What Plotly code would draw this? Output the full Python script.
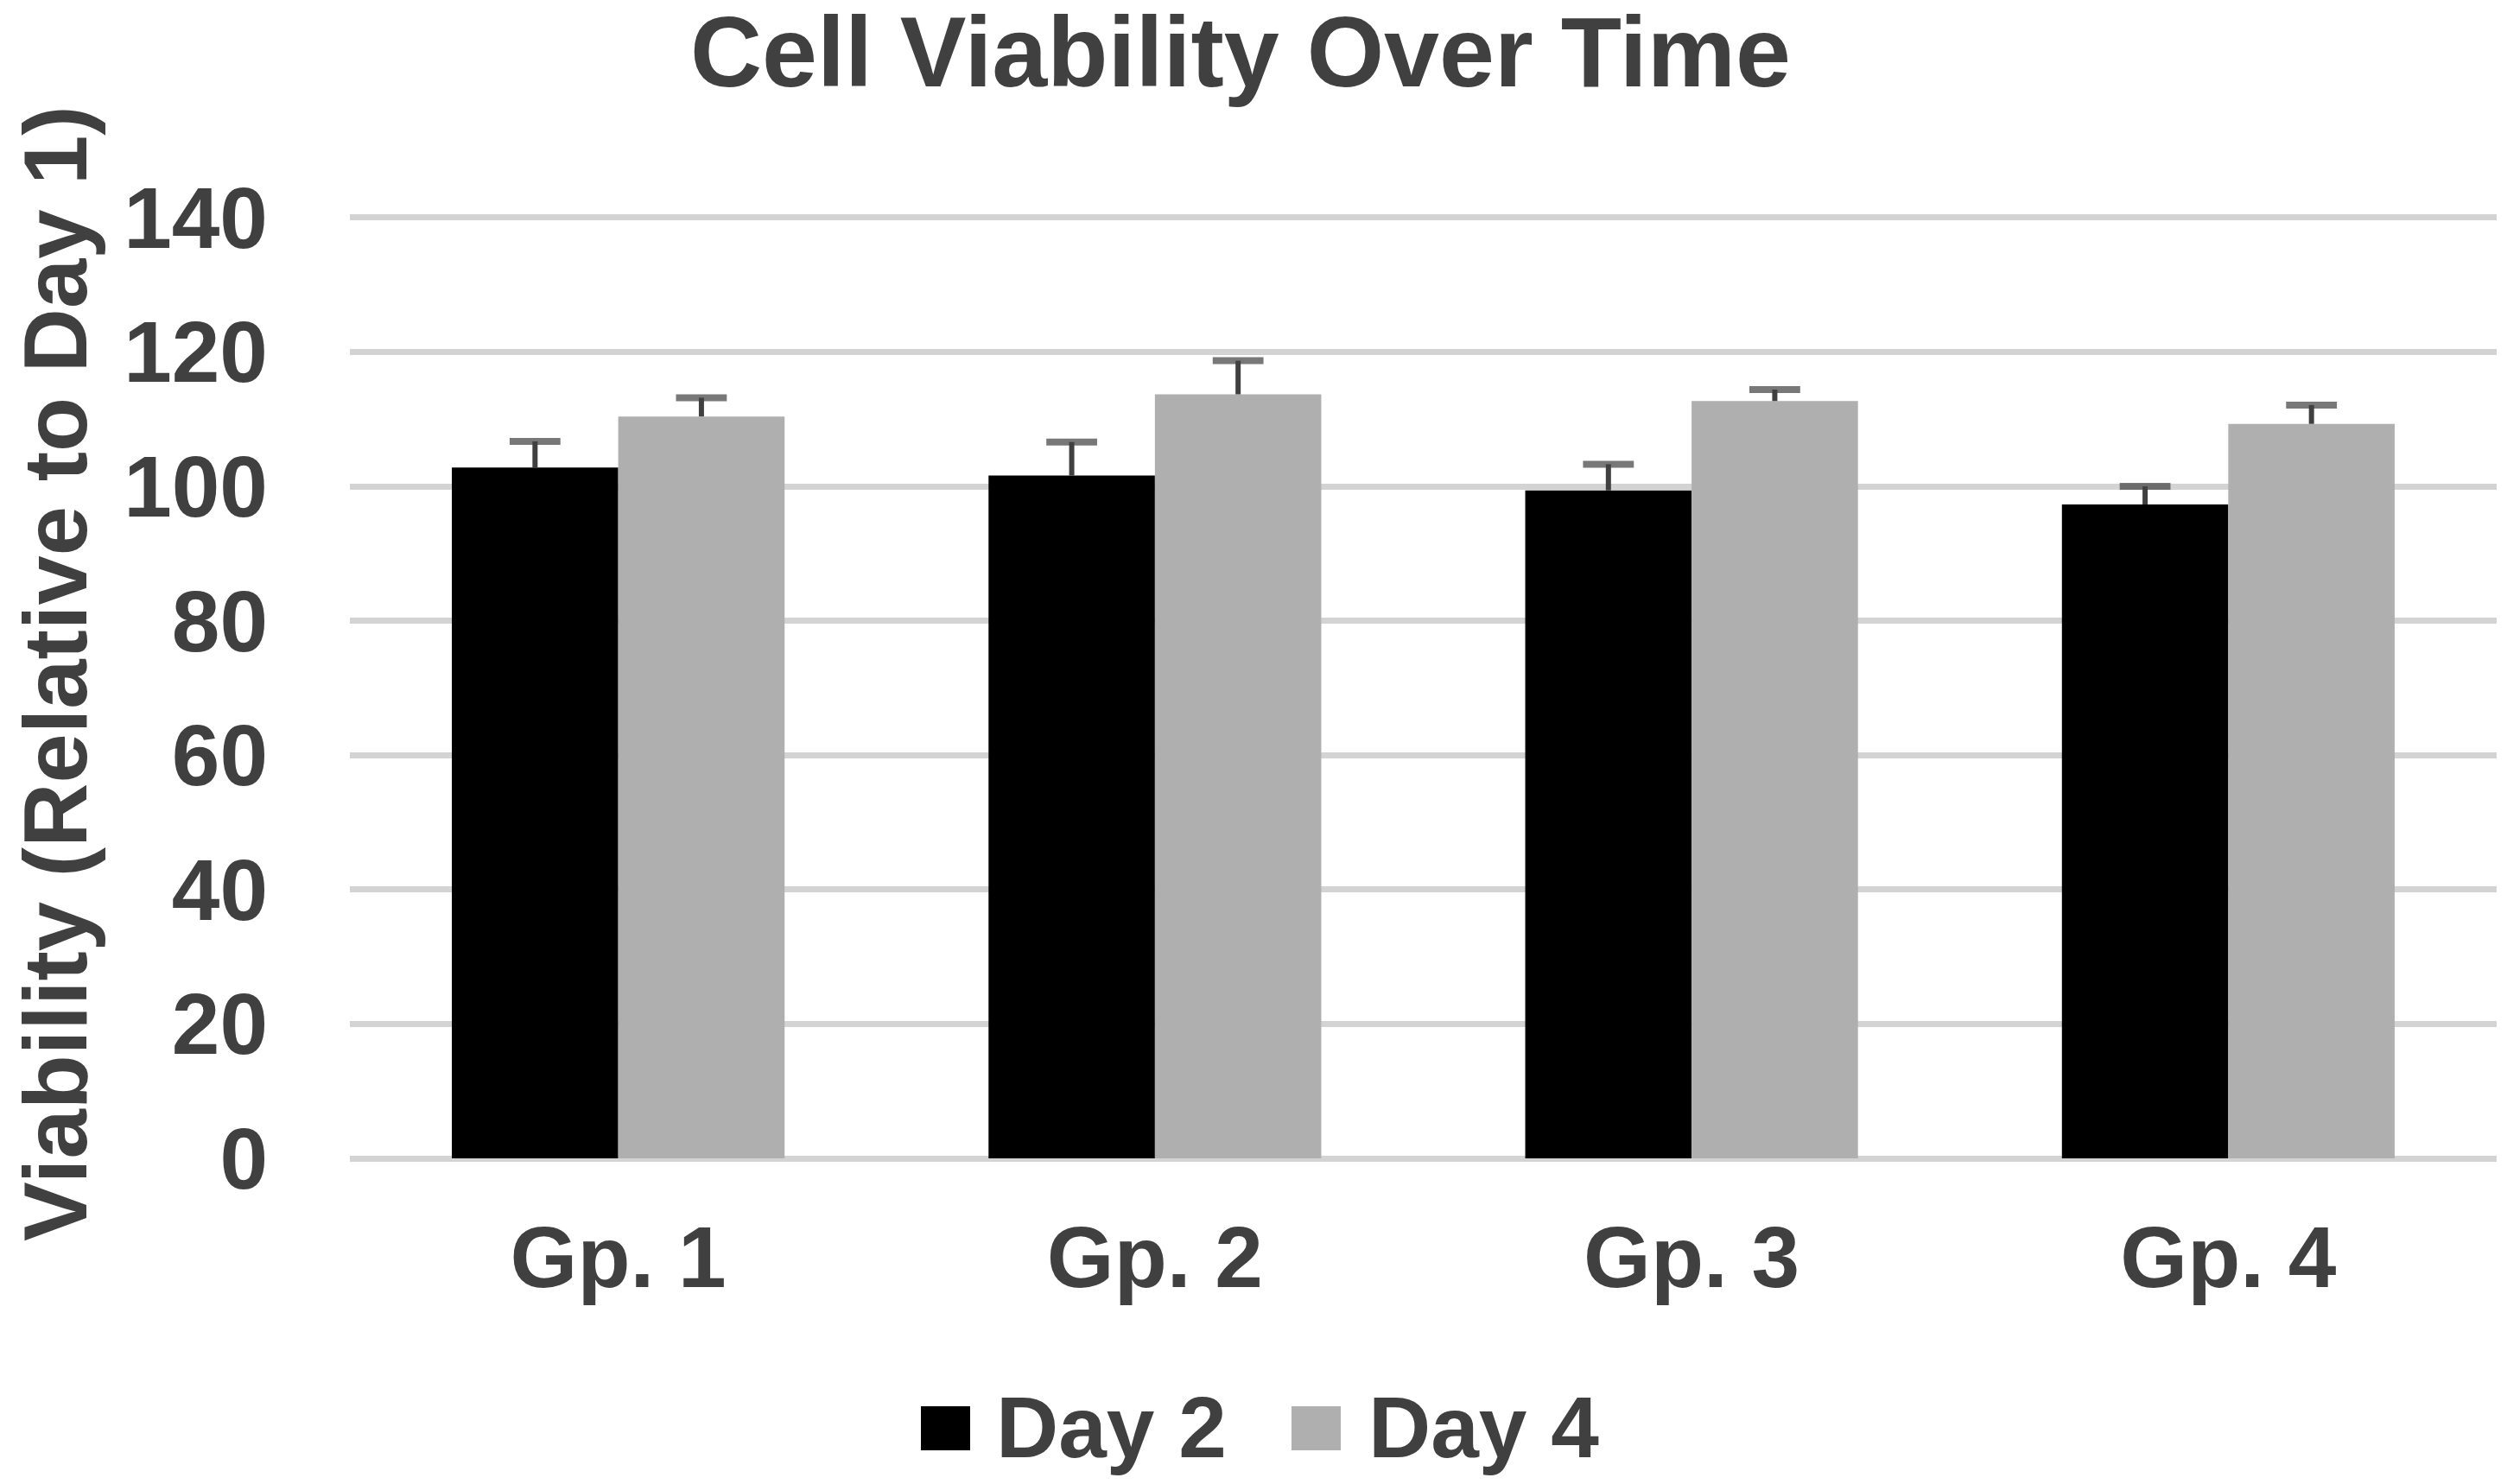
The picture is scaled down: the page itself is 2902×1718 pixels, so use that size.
import plotly.graph_objects as go

groups = ["Gp. 1", "Gp. 2", "Gp. 3", "Gp. 4"]
day2 = [102.8, 101.6, 99.4, 97.3]
day2_err = [3.9, 5.0, 3.9, 2.7]
day4 = [110.4, 113.7, 112.7, 109.3]
day4_err = [2.8, 5.0, 1.7, 2.8]
series_names = ["Day 2", "Day 4"]
y_ticks = [0, 20, 40, 60, 80, 100, 120, 140]

TXT = "#404040"
FONT = "Liberation Sans, Arial, sans-serif"
colors = ["#000000", "#afafaf"]

W, H = 2902, 1718
L, R, T, B = 397, 20, 240, 385
PW, PH = W - L - R, H - T - B


def px_x(x):
    return (x - L) / PW


def px_y(y):
    return (H - B - y) / PH


fig = go.Figure()
for name, vals, errs, col in zip(series_names, [day2, day4], [day2_err, day4_err], colors):
    fig.add_trace(go.Bar(
        name=name, x=groups, y=vals, marker_color=col, marker_line_width=0,
        offsetgroup=name, showlegend=False,
    ))
    # upper-only error bars: stem from bar top to top of error, cap at the top
    ex, ey, esz = [], [], []
    for g, v, e in zip(groups, vals, errs):
        ex += [g, g, None]
        ey += [v, v + e, None]
        esz += [0, 42, 0]
    fig.add_trace(go.Scatter(
        x=ex, y=ey, mode="lines+markers", offsetgroup=name, orientation="v",
        line=dict(color=TXT, width=6),
        marker=dict(symbol="line-ew", size=esz, color=TXT, line=dict(color=TXT, width=8)),
        showlegend=False, hoverinfo="skip", connectgaps=False,
    ))

# legend drawn manually with large square swatches
legend_items = [("Day 2", colors[0], 1058, 1143), ("Day 4", colors[1], 1487, 1574)]
for label, col, x0, tx in legend_items:
    fig.add_shape(type="rect", xref="paper", yref="paper",
                  x0=px_x(x0), x1=px_x(x0 + 57),
                  y0=px_y(1671), y1=px_y(1620),
                  fillcolor=col, line_width=0)
    fig.add_annotation(text="<b>%s</b>" % label, xref="paper", yref="paper",
                       x=px_x(tx), y=px_y(1644),
                       xanchor="left", yanchor="middle", showarrow=False,
                       font=dict(family=FONT, size=100, color=TXT))

# y-axis title
fig.add_annotation(text="<b>Viability (Relative to Day 1)</b>", xref="paper", yref="paper",
                   x=px_x(56), y=px_y(772), xanchor="center", yanchor="middle",
                   textangle=-90, showarrow=False,
                   font=dict(family=FONT, size=103, color=TXT))

fig.update_layout(
    width=W, height=H,
    margin=dict(l=L, r=R, t=T, b=B),
    paper_bgcolor="white", plot_bgcolor="white",
    barmode="group", bargap=0.38, bargroupgap=0,
    scattermode="group", scattergap=0.38,
    title=dict(text="<b>Cell Viability Over Time</b>", x=1428 / W, xanchor="center",
               y=1 - 11 / H, yanchor="top",
               font=dict(family=FONT, size=115, color=TXT)),
    font=dict(family=FONT, color=TXT),
)
fig.update_yaxes(
    range=[0, 140.5], tickvals=y_ticks, ticktext=["<b>%d</b>" % v for v in y_ticks],
    tickfont=dict(family=FONT, size=100, color=TXT),
    showgrid=True, gridcolor="#d3d3d3", gridwidth=7,
    zeroline=True, zerolinecolor="#d3d3d3", zerolinewidth=7,
    ticks="", ticklabelstandoff=94,
    automargin=False,
)
fig.update_xaxes(
    tickfont=dict(family=FONT, size=100, color=TXT),
    ticktext=["<b>%s</b>" % g for g in groups], tickvals=groups,
    showgrid=False, showline=False, ticks="", ticklabelstandoff=48,
    automargin=False,
)

fig.write_html("out.html")
